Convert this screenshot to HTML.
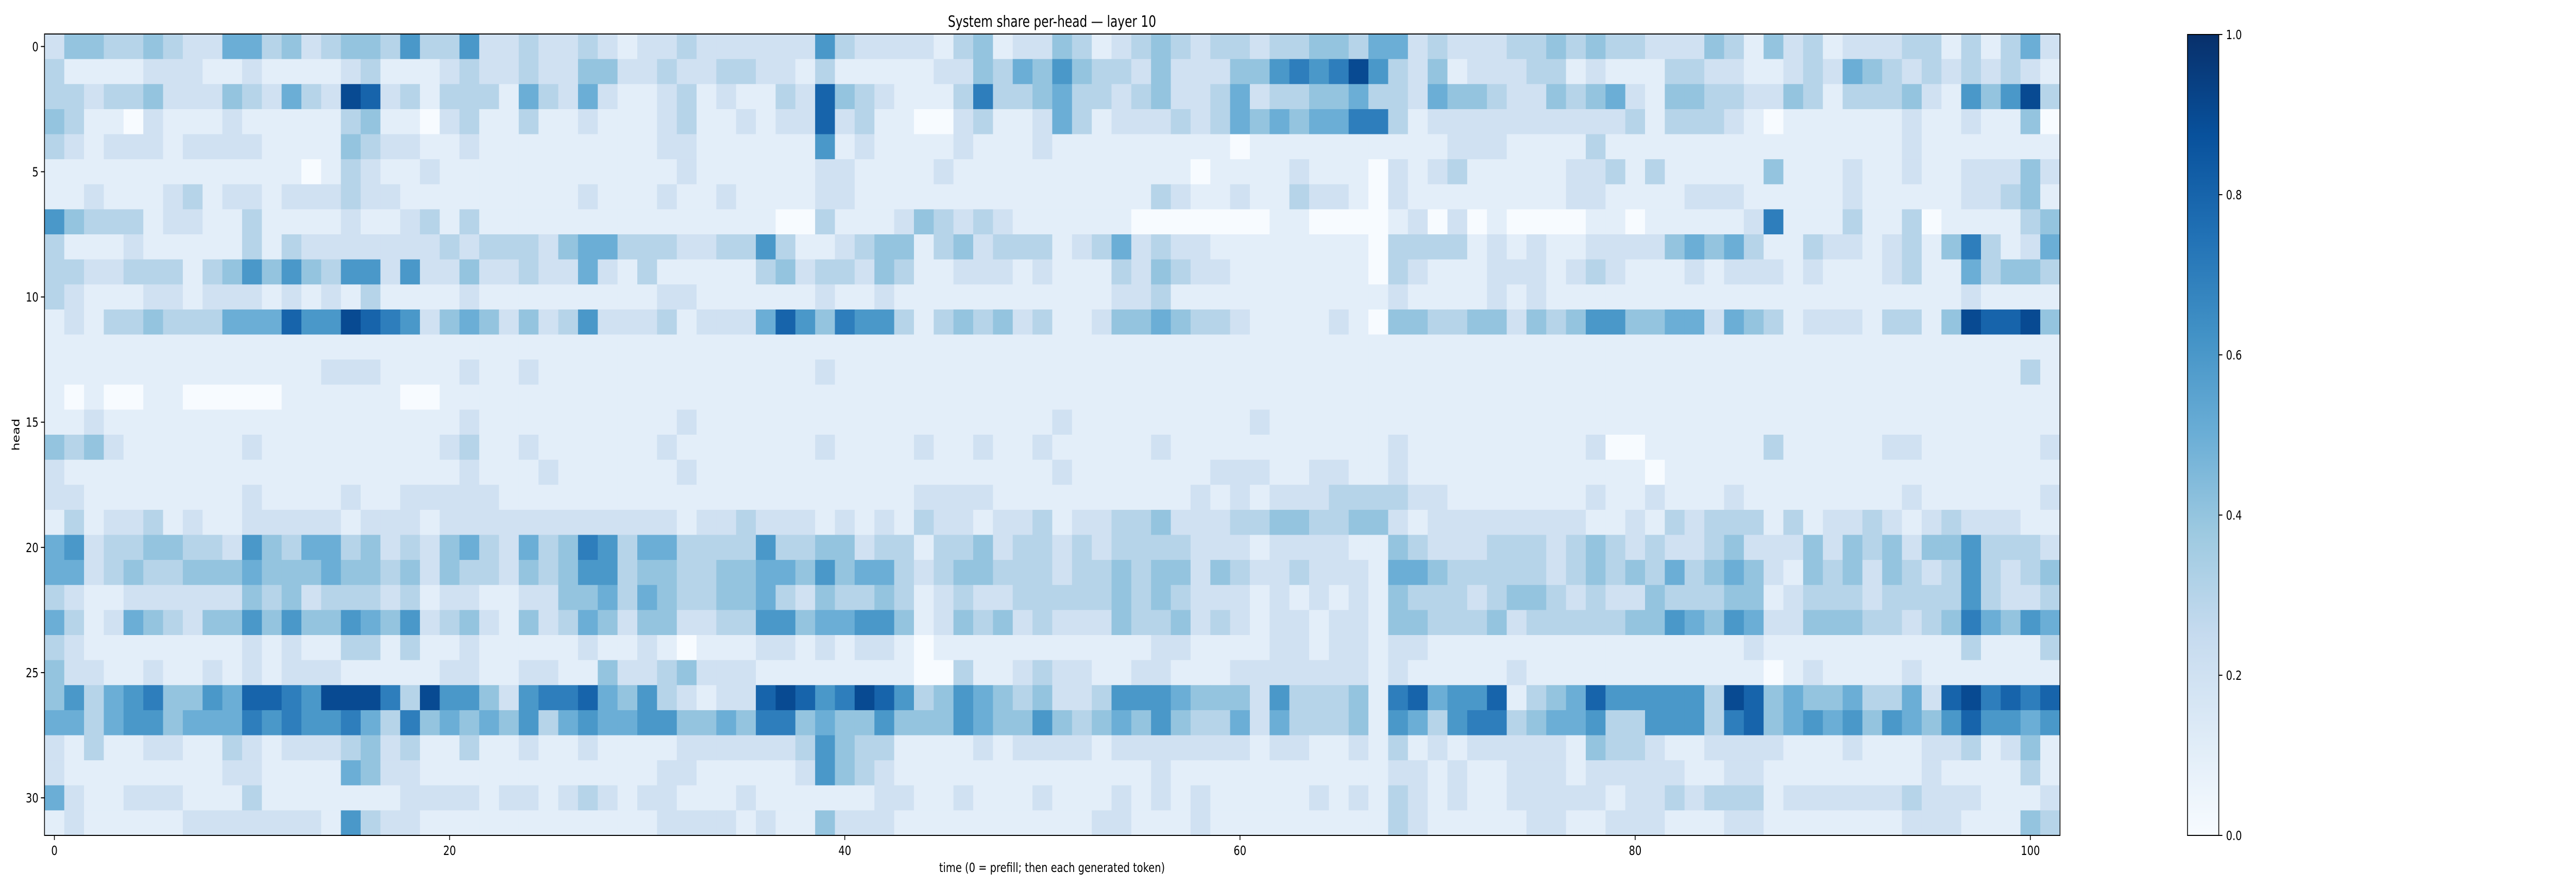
<!DOCTYPE html>
<html><head><meta charset="utf-8"><style>
html,body{margin:0;padding:0;background:#fff;overflow:hidden;width:100vw;height:100vh;}
svg{display:block;width:100vw;height:100vh;font-family:"DejaVu Sans","Liberation Sans",sans-serif;}
</style></head><body>
<svg id="chart" viewBox="0 0 6425 1728" preserveAspectRatio="none" xmlns="http://www.w3.org/2000/svg">
<defs>
<linearGradient id="cbgrad" x1="0" y1="1" x2="0" y2="0">
<stop offset="0" stop-color="#f7fbff"/><stop offset="0.125" stop-color="#deebf7"/><stop offset="0.25" stop-color="#c6dbef"/><stop offset="0.375" stop-color="#9ecae1"/><stop offset="0.5" stop-color="#6baed6"/><stop offset="0.625" stop-color="#4292c6"/><stop offset="0.75" stop-color="#2171b5"/><stop offset="0.875" stop-color="#08519c"/><stop offset="1" stop-color="#08306b"/>
</linearGradient>
</defs>
<text x="2624" y="52" font-size="30" text-anchor="middle">System share per-head — layer 10</text>
<g id="cells"></g>
<rect x="111" y="66" width="5027" height="1556" fill="none" stroke="#000" stroke-width="2"/>
<g id="xticks"></g>
<g id="yticks"></g>
<text x="2624" y="1693" font-size="25" text-anchor="middle">time (0 = prefill; then each generated token)</text>
<text x="0" y="0" font-size="25" text-anchor="middle" transform="translate(48,844) rotate(-90)">head</text>
<rect x="5456" y="67" width="78" height="1555" fill="url(#cbgrad)" stroke="#000" stroke-width="2"/>
<g id="cbticks"></g>
</svg>
<script>
const heads = 32;
const steps = 102;
const xTickValues = [0, 20, 40, 60, 80, 100];
const yTickValues = [0, 5, 10, 15, 20, 25, 30];
const cbTickValues = [0.0, 0.2, 0.4, 0.6, 0.8, 1.0];
const cbTickLabels = ["0.0", "0.2", "0.4", "0.6", "0.8", "1.0"];
// each digit = value*10, row = head, column = time step
const shareRows = [
"2443343225"+"5342344363"+"362232"+"2321223222"+"2226322221"+"341224"+"3123432332"+"3344355232"+"223343"+"4332224314"+"2312223313"+"1352",
"3111122211"+"2111123111"+"232232"+"2442232233"+"2213111112"+"243546"+"4332422244"+"6767963241"+"222331"+"2111332211"+"2325432323"+"2321",
"3323342224"+"3253298231"+"333153"+"2521123121"+"1328432111"+"373345"+"3323422352"+"3344533254"+"432243"+"4521443322"+"4313334216"+"4693",
"4311021112"+"1111134110"+"231131"+"1211123112"+"1228231100"+"231125"+"3122232354"+"5455773122"+"222222"+"2231333210"+"1111112112"+"1140",
"3212221222"+"2111143221"+"121111"+"1111122111"+"1116121111"+"211121"+"1111111101"+"1111111112"+"221111"+"3111111111"+"1111112111"+"1111",
"1111111111"+"1110132112"+"111111"+"1111112111"+"1112211112"+"111111"+"1111110111"+"1211102123"+"111112"+"2313111114"+"1112112112"+"2242",
"1121112312"+"2122232211"+"111111"+"1211121121"+"1112211111"+"111111"+"1111321121"+"1322102111"+"111112"+"2111122211"+"1112111112"+"2341",
"6433312211"+"3111121123"+"131111"+"1111111111"+"1003111243"+"232111"+"1110000000"+"1100001202"+"010000"+"1101111127"+"1113113011"+"1134",
"3111211111"+"3132222222"+"323332"+"4553332233"+"6311234413"+"423331"+"2352322111"+"1111103333"+"121211"+"2222454531"+"1322123147"+"3125",
"3322333134"+"6464366262"+"242232"+"2521311111"+"3423324311"+"222121"+"1132432211"+"1111103211"+"122212"+"3211121222"+"1211123115"+"3443",
"3211122122"+"2121213111"+"121111"+"1111122111"+"1112112111"+"111111"+"1122311111"+"1111112111"+"121211"+"1111111111"+"1111111112"+"1111",
"1213343335"+"5586698762"+"454242"+"3622231222"+"5864766313"+"434231"+"1244543321"+"1112104433"+"442434"+"6644552543"+"1222133149"+"8894",
"1111111111"+"1111111111"+"111111"+"1111111111"+"1111111111"+"111111"+"1111111111"+"1111111111"+"111111"+"1111111111"+"1111111111"+"1111",
"1111111111"+"1111222111"+"121121"+"1111111111"+"1112111111"+"111111"+"1111111111"+"1111111111"+"111111"+"1111111111"+"1111111111"+"1131",
"1010011000"+"0011111100"+"111111"+"1111111111"+"1111111111"+"111111"+"1111111111"+"1111111111"+"111111"+"1111111111"+"1111111111"+"1111",
"1121111111"+"1111111111"+"121111"+"1111112111"+"1111111111"+"111112"+"1111111112"+"1111111111"+"111111"+"1111111111"+"1111111111"+"1111",
"4342111111"+"2111111111"+"231121"+"1111121111"+"1112111121"+"121121"+"1111211111"+"1111112111"+"111111"+"2001111113"+"1111122111"+"1112",
"2111111111"+"1111111111"+"121112"+"1111112111"+"1111111111"+"111112"+"1111111222"+"1122112111"+"111111"+"1110111111"+"1111111111"+"1111",
"2211111111"+"2111121122"+"222111"+"1111111111"+"1111111122"+"221111"+"1111112121"+"2223333221"+"111111"+"2112111211"+"1111112111"+"1112",
"1312231211"+"2222212221"+"222222"+"2222221223"+"2221212132"+"212231"+"2233422233"+"4433442122"+"222222"+"1121323331"+"3122321232"+"2211",
"5623344332"+"6435534232"+"453253"+"4763553333"+"6334423313"+"342332"+"3233332221"+"2222114322"+"233323"+"4323223422"+"2424342446"+"3332",
"5523433444"+"5444544342"+"433243"+"4663443344"+"5546455323"+"443332"+"3343442432"+"2322215543"+"333323"+"4343534542"+"1434243236"+"3234",
"3211222222"+"4342333231"+"221122"+"4453543344"+"5324334312"+"322333"+"3343432221"+"2121214333"+"234432"+"3224333441"+"2333233336"+"3223",
"5312543244"+"6464465462"+"342142"+"3542442233"+"6645566412"+"434232"+"2243342321"+"2212214433"+"342333"+"3344654652"+"2444332347"+"5465",
"3211111111"+"2121133131"+"121111"+"1211210111"+"2212122101"+"111111"+"1111221111"+"2212212211"+"111111"+"1111111121"+"1111111113"+"1113",
"4221121121"+"2122211111"+"221122"+"1142234222"+"1111111100"+"311232"+"2112211122"+"2222212111"+"112111"+"1111111110"+"1211112111"+"1111",
"4635674465"+"8876999739"+"664267"+"7854632122"+"8986798634"+"654342"+"2366654442"+"6333417856"+"681345"+"8666663984"+"5445335289"+"7878",
"5535664555"+"7676675374"+"545463"+"5655664454"+"7745446444"+"654464"+"3454643352"+"5333416536"+"773455"+"6336663784"+"5656465468"+"6656",
"2131122113"+"2122234231"+"131121"+"1211112222"+"2236433111"+"121222"+"2122222221"+"2211213121"+"222221"+"4332112222"+"1112111223"+"1241",
"2111111112"+"2111154221"+"111111"+"1111122111"+"1126432111"+"111111"+"1111211111"+"1111112212"+"112221"+"2222211221"+"1111111211"+"1131",
"5211222111"+"3111111122"+"221221"+"2321221112"+"1111112211"+"211121"+"1121212111"+"1121213212"+"112222"+"2122323331"+"2222223222"+"1112",
"1211111222"+"2222163221"+"111111"+"1111122221"+"2114222111"+"111111"+"1221112111"+"1111113211"+"111221"+"1222111221"+"1111112221"+"1143"
];

const NS = "http://www.w3.org/2000/svg";
const X0 = 111, X1 = 5138, Y0 = 66, Y1 = 1622;
const cellW = (X1 - X0) / steps, cellH = (Y1 - Y0) / heads;
function xScale(t) { return X0 + (t + 0.5) * cellW; }
function yScale(h) { return Y0 + (h + 0.5) * cellH; }
const CB_TOP = 67, CB_BOT = 1622;
function cbScale(v) { return CB_BOT - v * (CB_BOT - CB_TOP); }
const stops = ["#f7fbff","#deebf7","#c6dbef","#9ecae1","#6baed6","#4292c6","#2171b5","#08519c","#08306b"];
function hex(c){return [parseInt(c.substr(1,2),16),parseInt(c.substr(3,2),16),parseInt(c.substr(5,2),16)];}
function blues(v){
  v=Math.max(0,Math.min(1,v));
  const p=v*8, i=Math.min(7,Math.floor(p)), f=p-i;
  const a=hex(stops[i]), b=hex(stops[i+1]);
  return "rgb("+a.map((x,k)=>Math.round(x+(b[k]-x)*f)).join(",")+")";
}
function mk(tag, attrs){const e=document.createElementNS(NS,tag);for(const k in attrs)e.setAttribute(k,attrs[k]);return e;}

const cells = document.getElementById("cells");
for (let h = 0; h < heads; h++) {
  const row = shareRows[h];
  for (let t = 0; t < steps; t++) {
    const v = parseInt(row[t] || "1", 10) / 10;
    const r = mk("rect", {x: (xScale(t) - cellW/2).toFixed(2), y: (yScale(h) - cellH/2).toFixed(2), width: (cellW + 0.6).toFixed(2), height: (cellH + 0.6).toFixed(2), fill: blues(v)});
    
    
    cells.appendChild(r);
  }
}
const xg = document.getElementById("xticks");
xTickValues.forEach(t => {
  const x = xScale(t);
  const l = mk("line", {x1: x, x2: x, y1: Y1, y2: Y1 + 9, stroke: "#000", "stroke-width": 2});
  
  
  xg.appendChild(l);
  const tx = mk("text", {x: x, y: 1660, "font-size": 25, "text-anchor": "middle"});
  tx.textContent = String(t);
  
  
  xg.appendChild(tx);
});
const yg = document.getElementById("yticks");
yTickValues.forEach(h => {
  const y = yScale(h);
  const l = mk("line", {x1: X0 - 9, x2: X0, y1: y, y2: y, stroke: "#000", "stroke-width": 2});
  
  
  yg.appendChild(l);
  const tx = mk("text", {x: X0 - 15, y: y + 9, "font-size": 25, "text-anchor": "end"});
  tx.textContent = String(h);
  
  
  yg.appendChild(tx);
});
const cg = document.getElementById("cbticks");
cbTickValues.forEach((v, i) => {
  const y = cbScale(v);
  const l = mk("line", {x1: 5534, x2: 5543, y1: y, y2: y, stroke: "#000", "stroke-width": 2});
  
  
  cg.appendChild(l);
  const tx = mk("text", {x: 5552, y: y + 9, "font-size": 25, "text-anchor": "start"});
  tx.textContent = cbTickLabels[i];
  
  
  cg.appendChild(tx);
});
</script>
</body></html>
